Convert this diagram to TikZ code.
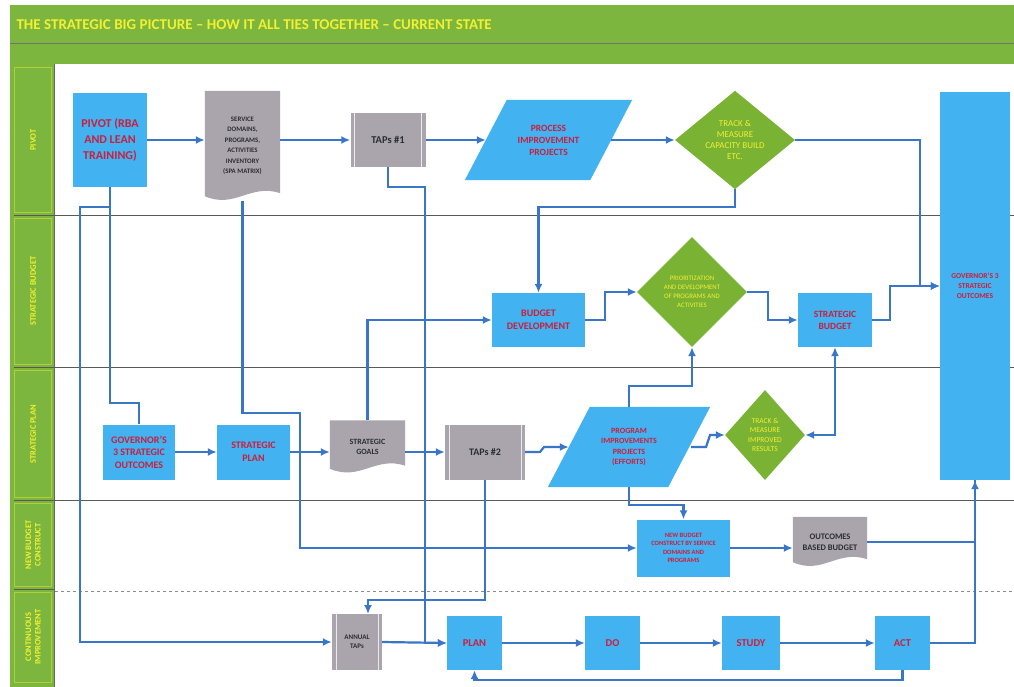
\documentclass[tikz,border=0pt]{standalone}
\usepackage{fontspec}
\setmainfont{Carlito}
\usetikzlibrary{shapes.geometric,arrows.meta,calc}
\pgfdeclarelayer{frame}
\pgfdeclarelayer{background}
\pgfsetlayers{frame,background,main}
\definecolor{bluebox}{RGB}{66,178,240}
\definecolor{redtxt}{RGB}{205,30,60}
\definecolor{docgray}{RGB}{170,165,173}
\definecolor{dgreen}{RGB}{122,178,52}
\definecolor{framegreen}{RGB}{124,182,62}
\definecolor{conncol}{RGB}{58,118,200}
\definecolor{ytxt}{RGB}{242,240,48}
\definecolor{darktxt}{RGB}{45,45,50}
\newcommand\myfs[2]{\fontsize{#1}{#2}\selectfont}
\newcommand\docfill[1]{%
  \fill[docgray] (#1.north west) -- (#1.north east) -- ($(#1.south east)+(0,-8)$)
    .. controls ($(#1.south west)!0.6!(#1.south east)+(0,-18)$) and ($(#1.south west)!0.4!(#1.south east)+(0,8)$)
    .. ($(#1.south west)+(0,-5)$) -- cycle;}
\newcommand\parafill[2]{%
  \fill[bluebox] ($(#1.north west)+(#2,0)$) -- ($(#1.north east)+(#2,0)$) -- ($(#1.south east)+(-#2,0)$) -- ($(#1.south west)+(-#2,0)$) -- cycle;}
\tikzset{
  bbox/.style={rectangle, fill=bluebox, text=redtxt, align=center, inner sep=1pt, font=\bfseries},
  pbox/.style={rectangle, text=redtxt, align=center, inner sep=1pt, font=\bfseries},
  dbox/.style={rectangle, text=darktxt, align=center, inner sep=1pt, font=\bfseries},
  tbox/.style={rectangle, fill=docgray, text=darktxt, align=center, inner sep=1pt, font=\bfseries,
    path picture={\draw[white!75!docgray, line width=0.8pt]
      ([xshift=4pt]path picture bounding box.north west) -- ([xshift=4pt]path picture bounding box.south west)
      ([xshift=-4pt]path picture bounding box.north east) -- ([xshift=-4pt]path picture bounding box.south east);}},
  gdia/.style={diamond, fill=dgreen, text=ytxt, align=center, inner sep=0pt},
  conn/.style={draw=conncol, line width=2.2pt, -{Latex[length=9pt,width=8pt]}},
  connb/.style={draw=conncol, line width=2.2pt, {Latex[length=9pt,width=8pt]}-{Latex[length=9pt,width=8pt]}},
  connl/.style={draw=conncol, line width=2.2pt},
  lanecell/.style={draw=ytxt!45!framegreen, line width=0.6pt},
  lanelbl/.style={rotate=90, text=ytxt, align=center, font=\bfseries\myfs{8.5}{9.5}},
  divider/.style={draw=black!65, line width=0.8pt}
}
\begin{document}
\begin{tikzpicture}[x=1pt,y=-1pt]
\useasboundingbox (0,0) rectangle (1014,687);
\begin{pgfonlayer}{frame}
  \fill[white] (0,0) rectangle (1014,687);
  \fill[framegreen] (10,5) rectangle (1014,687);
  \draw[black!55, line width=1pt] (10,44) -- (1014,44);
  \fill[white] (55,64) rectangle (1014,687);
  \draw[black!60, line width=0.8pt] (54,64) -- (54,687);
  \draw[lanecell] (14,67) rectangle (51,212);
  \draw[lanecell] (14,218) rectangle (51,364);
  \draw[lanecell] (14,370) rectangle (51,497);
  \draw[lanecell] (14,503) rectangle (51,586);
  \draw[lanecell] (14,592) rectangle (51,682);
  \draw[divider] (14,215) -- (1014,215);
  \draw[divider] (14,367) -- (1014,367);
  \draw[divider] (14,500) -- (1014,500);
  \draw[black!45, line width=0.7pt, dashed] (55,591) -- (1014,591);
  \draw[divider] (14,589) -- (54,589);
\end{pgfonlayer}

% title and lane labels
\node[anchor=west, text=ytxt, font=\bfseries\myfs{15}{18}] (title) at (13,25)
  {THE STRATEGIC BIG PICTURE -- HOW IT ALL TIES TOGETHER -- CURRENT STATE};
\node[lanelbl] (l1) at (33,140) {PIVOT};
\node[lanelbl] (l2) at (33,291) {STRATEGIC BUDGET};
\node[lanelbl] (l3) at (33,434) {STRATEGIC PLAN};
\node[lanelbl] (l4) at (33,545) {NEW BUDGET\\CONSTRUCT};
\node[lanelbl] (l5) at (33,637) {CONTINUOUS\\IMPROVEMENT};

% lane 1
\node[bbox, minimum width=74, minimum height=94, font=\bfseries\myfs{12}{16}] (pivot) at (110,140) {PIVOT (RBA\\AND LEAN\\TRAINING)};
\node[dbox, minimum width=75, minimum height=110, font=\bfseries\myfs{6.8}{10.5}, yshift=-6pt] (svc) at (242.5,140) {SERVICE\\DOMAINS,\\PROGRAMS,\\ACTIVITIES\\INVENTORY\\(SPA MATRIX)};
\node[tbox, minimum width=75, minimum height=54, font=\bfseries\myfs{10.5}{12}] (taps1) at (388,140) {TAPs \#1};
\node[pbox, minimum width=125, minimum height=80, font=\bfseries\myfs{9.5}{12}] (pip) at (548.5,140) {PROCESS\\IMPROVEMENT\\PROJECTS};
\node[gdia, minimum width=120, minimum height=92, font=\myfs{9}{11}] (tm1) at (735,140) {TRACK \&\\MEASURE\\CAPACITY BUILD\\ETC.};
\node[bbox, minimum width=70, minimum height=388, font=\bfseries\myfs{7.5}{10}] (gov) at (975,286) {GOVERNOR'S 3\\STRATEGIC\\OUTCOMES};

% lane 2
\node[bbox, minimum width=93, minimum height=54, font=\bfseries\myfs{10}{13}] (bud) at (538.5,320) {BUDGET\\DEVELOPMENT};
\node[gdia, minimum width=110, minimum height=110, font=\myfs{6.8}{9}] (prio) at (692,292) {PRIORITIZATION\\AND DEVELOPMENT\\OF PROGRAMS AND\\ACTIVITIES};
\node[bbox, minimum width=74, minimum height=54, font=\bfseries\myfs{9.5}{12}] (sbud) at (835,320) {STRATEGIC\\BUDGET};

% lane 3
\node[bbox, minimum width=72, minimum height=55, font=\bfseries\myfs{10}{12.5}] (gov3) at (139,452) {GOVERNOR'S\\3 STRATEGIC\\OUTCOMES};
\node[bbox, minimum width=73, minimum height=55, font=\bfseries\myfs{10}{13}] (splan) at (253.5,452) {STRATEGIC\\PLAN};
\node[dbox, minimum width=75, minimum height=53, font=\bfseries\myfs{8}{10}, yshift=3pt] (sgoals) at (367.5,450) {STRATEGIC\\GOALS};
\node[tbox, minimum width=80, minimum height=55, font=\bfseries\myfs{10}{12}] (taps2) at (485,452) {TAPs \#2};
\node[pbox, minimum width=120, minimum height=80, font=\bfseries\myfs{8}{10.5}] (ppi) at (629,447) {PROGRAM\\IMPROVEMENTS\\PROJECTS\\(EFFORTS)};
\node[gdia, minimum width=80, minimum height=90, font=\myfs{7.5}{9.5}] (tm2) at (765,435) {TRACK \&\\MEASURE\\IMPROVED\\RESULTS};

% lane 4
\node[bbox, minimum width=93, minimum height=57, font=\bfseries\myfs{6.5}{8.5}] (nbc) at (683.5,548) {NEW BUDGET\\CONSTRUCT BY SERVICE\\DOMAINS AND\\PROGRAMS};
\node[dbox, minimum width=74, minimum height=50, font=\bfseries\myfs{8.5}{11}, yshift=3pt] (obb) at (830,545) {OUTCOMES\\BASED BUDGET};

% lane 5
\node[tbox, minimum width=50, minimum height=56, font=\bfseries\myfs{7}{9}] (atap) at (357,642) {ANNUAL\\TAPs};
\node[bbox, minimum width=55, minimum height=54, font=\bfseries\myfs{10.5}{12}] (plan) at (474.5,643) {PLAN};
\node[bbox, minimum width=55, minimum height=54, font=\bfseries\myfs{10.5}{12}] (do) at (612.5,643) {DO};
\node[bbox, minimum width=58, minimum height=54, font=\bfseries\myfs{10.5}{12}] (study) at (751,643) {STUDY};
\node[bbox, minimum width=55, minimum height=54, font=\bfseries\myfs{10.5}{12}] (act) at (902.5,643) {ACT};

\begin{pgfonlayer}{background}
  \docfill{svc}
  \docfill{sgoals}
  \docfill{obb}
  \parafill{pip}{21}
  \parafill{ppi}{21}
\end{pgfonlayer}

% connectors lane 1
\draw[conn] (pivot.east) -- (pivot.east -| svc.west);
\draw[conn] (svc.east |- taps1.west) -- (taps1.west);
\draw[conn] (taps1.east) -- (pip.west);
\draw[conn] (pip.east) -- (tm1.west);
\draw[conn] (tm1.east) -| (920,286) -- (gov.west);
\draw[conn] (sbud.east) -- (890,320) |- (gov.west);
\draw[conn] (tm1.south) -- (735,207) -| (bud.north);
% lane 2
\draw[conn] (bud.east) -- (605,320) |- (prio.west);
\draw[conn] (prio.east) -- (768,292) |- (sbud.west);
\draw[conn] (sgoals.north) |- (bud.west);
\draw[conn] (ppi.north) -- (629,386) -| (prio.south);
% lane 3
\draw[conn] (gov3.east) -- (splan.west);
\draw[conn] (splan.east) -- (splan.east -| sgoals.west);
\draw[conn] (sgoals.east |- taps2.west) -- (taps2.west);
\draw[conn] (taps2.east) -- (540,452) -- (544,447) -- (ppi.west);
\draw[conn] (691,447) -- (706,447) -- (710,435) -- (tm2.west);
\draw[connb] (tm2.east) -| (sbud.south);
% lane 4
\draw[conn] (ppi.south) -- (629,505) -| (nbc.north);
\draw[conn] (nbc.east) -- (nbc.east -| obb.west);
\draw[conn] (svc.south) |- (300,413) |- (nbc.west);
\draw[conn] (obb.east) -| (gov.south);
% lane 5
\draw[connl] (act.east) -| (gov.south);
\draw[conn] (act.south) -- (902.5,680) -| (plan.south);
\draw[conn] (plan.east) -- (do.west);
\draw[conn] (do.east) -- (study.west);
\draw[conn] (study.east) -- (act.west);
\draw[conn] (atap.east) -- (plan.west);
\draw[conn] (taps1.south) |- (425,187) |- (plan.west);
\draw[conn] (taps2.south) |- (368,600) -- (368,614);
% pivot feeds
\draw[connl] (pivot.south) |- (139,403) -- (gov3.north);
\draw[conn] (pivot.south) -- (110,207) -| (80,500) |- (atap.west);
\end{tikzpicture}
\end{document}
